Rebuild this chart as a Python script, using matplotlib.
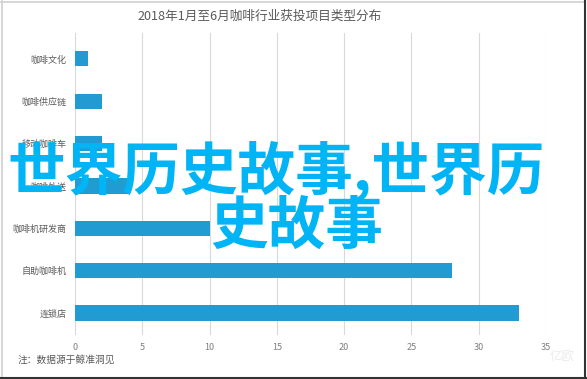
import matplotlib
matplotlib.use("Agg")
import matplotlib.pyplot as plt
from matplotlib.lines import Line2D

plt.rcParams['font.family'] = ['Noto Sans CJK SC', 'DejaVu Sans']

categories = ["咖啡文化", "咖啡供应链", "移动咖啡车", "咖啡外送", "咖啡机研发商", "自助咖啡机", "连锁店"]
values = [1, 2, 2, 4, 10, 28, 33]
xticks = [0, 5, 10, 15, 20, 25, 30, 35]
title = "2018年1月至6月咖啡行业获投项目类型分布"
note = "注：数据源于鲸准洞见"
overlay_line1 = "世界历史故事,世界历"
overlay_line2 = "史故事"

W, H = 587, 379
fig = plt.figure(figsize=(W / 100, H / 100), dpi=100)
fig.patch.set_facecolor("white")

# axes: x from 75 to 546 px, y from 33 to 335 px
ax = fig.add_axes([75 / W, 1 - 335 / H, (546 - 75) / W, (335 - 33) / H])
y = list(range(len(categories)))
ax.barh(y, values, height=0.36, color="#229bd3", zorder=2)
ax.set_xlim(0, 35)
ax.set_ylim(6.52, -0.61)
ax.set_yticks(y)
ax.set_yticklabels(categories, fontsize=6.5, color="#595959")
ax.set_xticks(xticks)
ax.set_xticklabels([str(t) for t in xticks], fontsize=6.5, color="#7f7f7f")
ax.tick_params(axis="both", length=0)
ax.tick_params(axis="x", pad=6)
ax.tick_params(axis="y", pad=6)
for s in ax.spines.values():
    s.set_visible(False)
ax.grid(axis="x", color="#d9d9d9", linewidth=0.8, zorder=0)
ax.set_axisbelow(True)

fig.text(260 / W, 1 - 16 / H, title, ha="center", va="center", fontsize=9.1, color="#595959")
fig.text(18 / W, 1 - 360 / H, note, ha="left", va="center", fontsize=7, color="#595959")

# faint watermark
fig.text(562 / W, 1 - 357 / H, "亿欧", ha="center", va="center", fontsize=9, color="#ececec")

# overlay text
fig.text(276 / W, 1 - 171 / H, overlay_line1, ha="center", va="center", fontsize=41.5,
         color="#00b4f5", fontweight="bold", zorder=10)
fig.text(297 / W, 1 - 227 / H, overlay_line2, ha="center", va="center", fontsize=41.5,
         color="#00b4f5", fontweight="bold", zorder=10)

# frame
fig.add_artist(Line2D([1 / W, 584 / W], [1 - 1.5 / H, 1 - 1.5 / H], color="#d0d0d0", linewidth=1.2, transform=fig.transFigure))
fig.add_artist(Line2D([1.5 / W, 1.5 / W], [1 - 1 / H, 1 - 376 / H], color="#d0d0d0", linewidth=1.2, transform=fig.transFigure))
fig.add_artist(Line2D([585 / W, 585 / W], [1, 0], color="#333333", linewidth=1.5, transform=fig.transFigure))
fig.add_artist(Line2D([0, 1], [1 - 377.5 / H, 1 - 377.5 / H], color="#333333", linewidth=1.5, transform=fig.transFigure))

fig.savefig("out.png", dpi=100, facecolor="white")
